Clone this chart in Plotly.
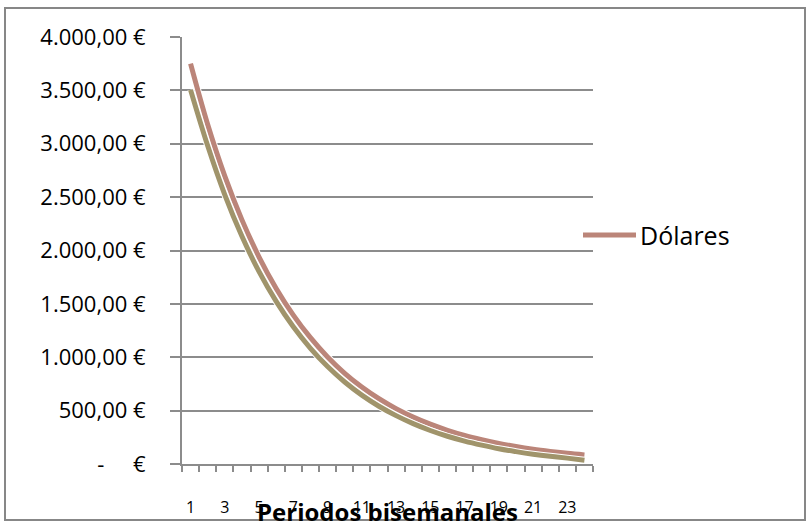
import plotly.graph_objects as go

periods = list(range(1, 25))
dolares = [3750, 3180, 2697, 2287, 1939, 1645, 1395, 1183, 1003, 850, 721, 612,
           519, 440, 373, 316, 268, 228, 193, 164, 139, 118, 100, 85]
euros = [3505, 2981, 2522, 2133, 1802, 1523, 1285, 1084, 913, 768, 645, 541,
         453, 378, 314, 260, 215, 177, 143, 116, 92, 72, 55, 36]
y_tickvals = [0, 500, 1000, 1500, 2000, 2500, 3000, 3500, 4000]
y_ticktext = ["-\u00a0\u00a0\u00a0\u00a0\u00a0€", "500,00 €", "1.000,00 €", "1.500,00 €", "2.000,00 €",
              "2.500,00 €", "3.000,00 €", "3.500,00 €", "4.000,00 €"]
x_tickvals = [1, 3, 5, 7, 9, 11, 13, 15, 17, 19, 21, 23]
x_boundaries = [p - 0.5 for p in periods] + [24.5]
legend_label = "Dólares"

PINK = "#BB8579"
OLIVE = "#A0946B"
GRID = "#8C8C8C"
FONT = "Open Sans, sans-serif"

L, T, PW, PH = 182, 37, 411, 427


def px_x(p):
    return (p - L) / PW


def px_y(p):
    return 1 - (p - T) / PH


fig = go.Figure()
fig.add_trace(go.Scatter(x=periods, y=dolares, mode="lines", showlegend=False,
                         hoverinfo="skip", line=dict(color="white", width=7, shape="spline")))
fig.add_trace(go.Scatter(x=periods, y=dolares, mode="lines", name=legend_label, showlegend=False,
                         line=dict(color=PINK, width=5, shape="spline")))
fig.add_trace(go.Scatter(x=periods, y=euros, mode="lines", showlegend=False,
                         hoverinfo="skip", line=dict(color="white", width=7, shape="spline")))
fig.add_trace(go.Scatter(x=periods, y=euros, mode="lines", showlegend=False,
                         line=dict(color=OLIVE, width=5, shape="spline")))

fig.update_layout(
    width=811, height=527,
    margin=dict(l=L, r=811 - L - PW, t=T, b=527 - T - PH),
    paper_bgcolor="white", plot_bgcolor="white",
    font=dict(family=FONT, color="black"),
    showlegend=False,
    xaxis=dict(range=[0.5, 24.5], showgrid=False, zeroline=False, automargin=False,
               showline=True, linecolor=GRID, linewidth=2,
               tickmode="array", tickvals=x_tickvals, ticks="",
               ticklabelstandoff=28, tickfont=dict(size=16, family=FONT),
               minor=dict(tickmode="array", tickvals=x_boundaries, ticks="outside",
                          ticklen=6, tickcolor=GRID, tickwidth=2, showgrid=False)),
    yaxis=dict(range=[0, 4000], showgrid=True, gridcolor=GRID, gridwidth=2, automargin=False,
               zeroline=False, showline=True, linecolor=GRID, linewidth=2,
               tickmode="array", tickvals=y_tickvals, ticktext=y_ticktext,
               ticks="outside", ticklen=10, tickcolor=GRID, tickwidth=2,
               ticklabelstandoff=20, tickfont=dict(size=22, family=FONT)),
    shapes=[
        dict(type="rect", xref="paper", yref="paper",
             x0=px_x(5), x1=px_x(805), y0=px_y(520), y1=px_y(8),
             line=dict(color="#878787", width=2), fillcolor="rgba(0,0,0,0)", layer="below"),
        dict(type="line", xref="paper", yref="paper",
             x0=px_x(583), x1=px_x(636), y0=px_y(235), y1=px_y(235),
             line=dict(color=PINK, width=5)),
    ],
    annotations=[
        dict(text="<b>Periodos bisemanales</b>", xref="paper", yref="paper",
             x=0.5, y=px_y(512), xanchor="center", yanchor="middle",
             showarrow=False, font=dict(size=24, family=FONT, color="black")),
        dict(text=legend_label, xref="paper", yref="paper",
             x=px_x(638), y=px_y(235), xanchor="left", yanchor="middle",
             showarrow=False, font=dict(size=25, family=FONT, color="black")),
    ],
)

fig.write_html("out.html")
